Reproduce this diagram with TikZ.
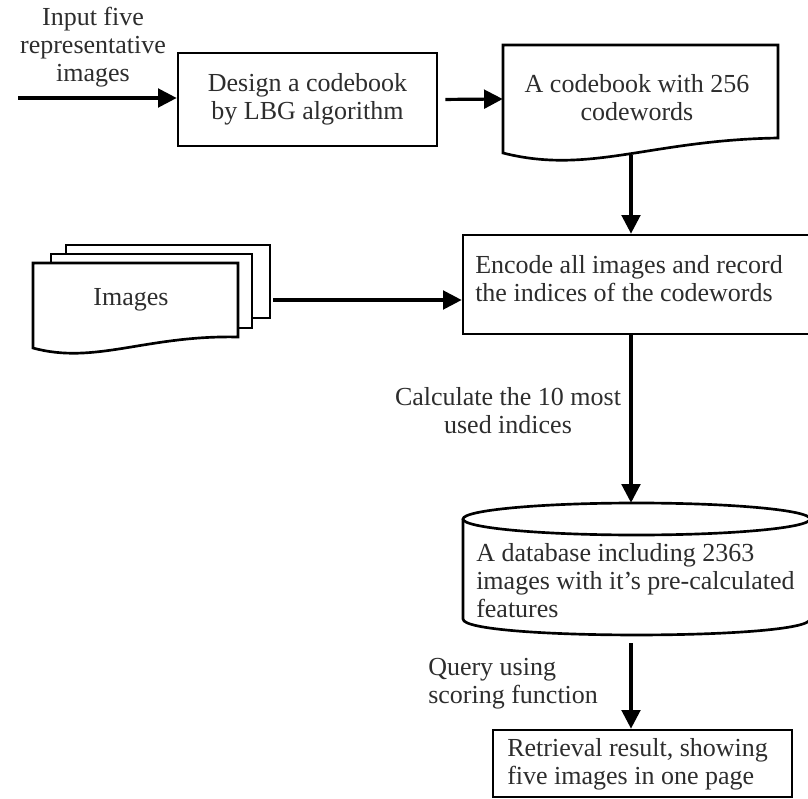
\documentclass[tikz,border=0pt]{standalone}
\usepackage{fontspec}
\setmainfont{Liberation Serif}
\usetikzlibrary{arrows.meta,fit}
\definecolor{textgray}{RGB}{45,45,45}
\tikzset{
  shapeline/.style={draw=black,line width=2pt,fill=white},
  arr/.style={line width=2.4pt,-{Triangle[length=14pt,width=14pt]}},
  txt/.style={font=\fontsize{19.5}{21}\selectfont,inner sep=0pt,text=textgray},
  region/.style={inner sep=0pt},
}
\begin{document}
\begin{tikzpicture}[x=0.75pt,y=-0.75pt,line join=miter]
\useasboundingbox (0,0) rectangle (808,799);
\clip (0,0) rectangle (808,799);

% --- codebook design step
\node[shapeline, region, fit={(178,53) (437,146)}] (b1) {};
\node[txt, align=center] (b1t) at (b1.center) {Design a codebook\\by LBG algorithm};

% --- codebook document
\node[region, fit={(503,45) (778,153)}] (cb) {};
\draw[shapeline] (503,45) -- (778,45) -- (778,138)
  .. controls (650,140) and (590,175) .. (503,153) -- cycle;
\node[txt, align=center] (cbt) at (637,98) {A codebook with 256\\codewords};
\coordinate (cbout) at (631,155);

% --- stack of images
\node[region, fit={(33,245) (270,355)}] (stack) {};
\draw[shapeline] (66,245) rectangle (270,318);
\draw[shapeline] (51,254) rectangle (252,328);
\draw[shapeline] (33,263) -- (238,263) -- (238,337)
  .. controls (146,335) and (95,365) .. (33,348) -- cycle;
\node[txt] (imt) at (131,300) {Images};
\coordinate (imgout) at (273,300);

% --- encoding step
\node[shapeline, region, fit={(463,235) (812,334)}] (enc) {};
\node[txt, align=left, anchor=west] (enct) at (475,279)
  {Encode all images and record\\the indices of the codewords};

% --- database cylinder
\node[region, fit={(463,503) (810,635)}] (db) {};
\draw[shapeline] (463,519) -- (463,619)
  .. controls (463,640.3) and (810,640.3) .. (810,619) -- (810,519);
\draw[shapeline] (636.5,519) ellipse[x radius=173.5, y radius=16];
\node[txt, align=left, anchor=west] (dbt) at (476,581)
  {A database including 2363\\images with it’s pre-calculated\\features};
\coordinate (dbout) at (631,643);

% --- retrieval result
\node[shapeline, region, fit={(493,730) (792,797)}] (res) {};
\node[txt, align=left, anchor=west] (rest) at (507,764)
  {Retrieval result, showing\\five images in one page};

% --- labels
\node[txt, align=center] (inlab) at (93,47) {Input five\\representative\\images};
\node[txt, align=center] (calc) at (508,411) {Calculate the 10 most\\used indices};
\node[txt, align=left, anchor=west] (qry) at (428,684) {Query using\\scoring function};

% --- connectors
\coordinate (src) at (18,98);
\draw[arr] (src) -- (src -| b1.west);
\draw[arr, shorten <=5.25pt] (b1.east) -- (cb.west);
\draw[arr] (cbout) -- (enc.north -| cbout);
\draw[arr] (imgout) -- (enc.west |- imgout);
\draw[arr] (enc.south -| cbout) -- (db.north -| cbout);
\draw[arr] (dbout) -- (res.north -| dbout);
\end{tikzpicture}
\end{document}
